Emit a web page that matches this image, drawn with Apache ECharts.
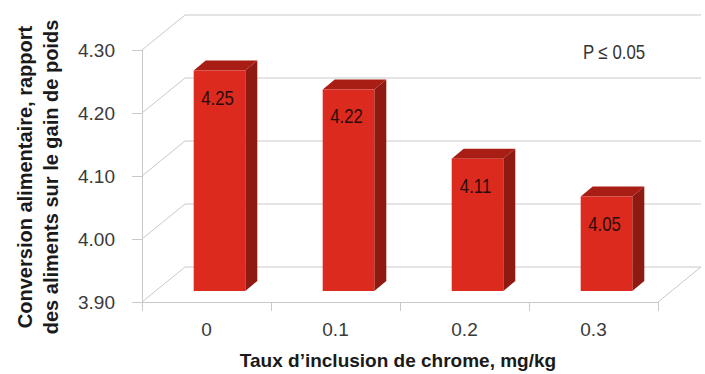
<!DOCTYPE html>
<html>
<head>
<meta charset="utf-8">
<script src="https://cdn.jsdelivr.net/npm/echarts@6/dist/echarts.min.js"></script>
<style>
html,body{margin:0;padding:0;background:#fff;}
#chart{width:705px;height:374px;}
</style>
</head>
<body>
<div id="chart"></div>
<script>
// ---- data ----
const categories = ['0', '0.1', '0.2', '0.3'];
const values = [4.25, 4.22, 4.11, 4.05];
const valueLabels = ['4.25', '4.22', '4.11', '4.05'];
const yTicks = [3.9, 4.0, 4.1, 4.2, 4.3];
const xTitle = 'Taux d\u2019inclusion de chrome, mg/kg';
const yTitleLines = ['Conversion alimentaire, rapport', 'des aliments sur le gain de poids'];
const note = 'P \u2264 0.05';

// ---- style constants ----
const NARROW = "'Liberation Sans Narrow','Arial Narrow','Liberation Sans',Arial,sans-serif";
const BOLD = "'Liberation Sans',Arial,sans-serif";
const DEPTH_X = 43, DEPTH_Y = -35;      // wall depth
const BAR_OFF_X = 13, BAR_OFF_Y = -11;   // bar front face offset from front plane
const BAR_D_X = 12, BAR_D_Y = -10;       // bar depth
const BAR_RATIO = 0.4;
const GRID_COLOR = '#c9c9c9';
const SQUEEZE = 0.84;

const chart = echarts.init(document.getElementById('chart'), null, {renderer: 'svg'});

const yMin = yTicks[0], yMax = yTicks[yTicks.length - 1];

const option = {
  animation: false,
  grid: {left: 142, right: 47, top: 50, bottom: 72},
  xAxis: {
    type: 'category',
    data: categories,
    boundaryGap: true,
    axisLine: {show: true, lineStyle: {color: GRID_COLOR, width: 1}},
    axisTick: {show: true, length: 9, lineStyle: {color: GRID_COLOR}},
    axisLabel: {margin: 18, fontSize: 19, fontFamily: NARROW, color: '#3a3a3a'},
    splitLine: {show: false}
  },
  yAxis: {
    type: 'value',
    min: yMin, max: yMax, interval: 0.1,
    axisLine: {show: true, lineStyle: {color: GRID_COLOR, width: 1}},
    axisTick: {show: true, length: 10, lineStyle: {color: GRID_COLOR}},
    axisLabel: {margin: 27, fontSize: 19, fontFamily: NARROW, color: '#3a3a3a',
      formatter: v => Number(v).toFixed(2)},
    splitLine: {show: false}
  },
  series: [
    {
      // back wall grid lines + diagonals + floor
      type: 'custom',
      silent: true,
      data: yTicks.map(v => [0, v]),
      encode: {x: 0, y: 1},
      renderItem: function (params, api) {
        const v = api.value(1);
        const half = api.size([1, 0])[0] / 2;
        const xL = api.coord([0, v])[0] - half;
        const xR = api.coord([categories.length - 1, v])[0] + half;
        const y = api.coord([0, v])[1];
        const children = [
          {type: 'line', shape: {x1: xL, y1: y, x2: xL + DEPTH_X, y2: y + DEPTH_Y},
            style: {stroke: GRID_COLOR, lineWidth: 1}},
          {type: 'line', shape: {x1: xL + DEPTH_X, y1: y + DEPTH_Y, x2: xR + DEPTH_X, y2: y + DEPTH_Y},
            style: {stroke: GRID_COLOR, lineWidth: 1}}
        ];
        if (v === yMin) {
          children.push({type: 'line', shape: {x1: xR, y1: y, x2: xR + DEPTH_X, y2: y + DEPTH_Y},
            style: {stroke: GRID_COLOR, lineWidth: 1}});
        }
        return {type: 'group', children: children};
      },
      z: 1
    },
    {
      type: 'custom',
      data: categories.map((c, i) => [i, values[i]]),
      encode: {x: 0, y: 1},
      renderItem: function (params, api) {
        const i = api.value(0);
        const v = api.value(1);
        const band = api.size([1, 0])[0];
        const w = band * BAR_RATIO;
        const top = api.coord([i, v]);
        const base = api.coord([i, yMin]);
        const cx = top[0] + BAR_OFF_X;
        const x0 = cx - w / 2, x1 = cx + w / 2;
        const yT = top[1] + BAR_OFF_Y, yB = base[1] + BAR_OFF_Y;
        return {
          type: 'group',
          children: [
            {type: 'polygon', shape: {points: [[x1, yT], [x1 + BAR_D_X, yT + BAR_D_Y], [x1 + BAR_D_X, yB + BAR_D_Y], [x1, yB]]},
              style: {fill: '#8f1a11'}},
            {type: 'polygon', shape: {points: [[x0, yT], [x0 + BAR_D_X, yT + BAR_D_Y], [x1 + BAR_D_X, yT + BAR_D_Y], [x1, yT]]},
              style: {fill: '#a81d14'}},
            {type: 'rect', shape: {x: x0, y: yT, width: w, height: yB - yT},
              style: {fill: '#dc2a1f'}},
            {type: 'text', x: cx - 2, y: yT + 27, scaleX: SQUEEZE,
              style: {text: valueLabels[params.dataIndex], fontSize: 20, fontFamily: NARROW,
                fill: '#2a0c0a', align: 'center', verticalAlign: 'middle'}}
          ]
        };
      },
      z: 2
    }
  ]
};

option.graphic = [
  {type: 'text', x: 38, y: 177, rotation: Math.PI / 2,
    style: {text: yTitleLines.join('\n'), fontSize: 20, fontWeight: 'bold', fontFamily: BOLD,
      fill: '#1a1a1a', align: 'center', verticalAlign: 'middle', lineHeight: 26}},
  {type: 'text', x: 398, y: 360,
    style: {text: xTitle, fontSize: 19, fontWeight: 'bold', fontFamily: BOLD,
      fill: '#1a1a1a', align: 'center', verticalAlign: 'middle'}},
  {type: 'text', x: 614, y: 52, scaleX: SQUEEZE,
    style: {text: note, fontSize: 20, fontFamily: NARROW,
      fill: '#333', align: 'center', verticalAlign: 'middle'}}
];

chart.setOption(option);
</script>
</body>
</html>
